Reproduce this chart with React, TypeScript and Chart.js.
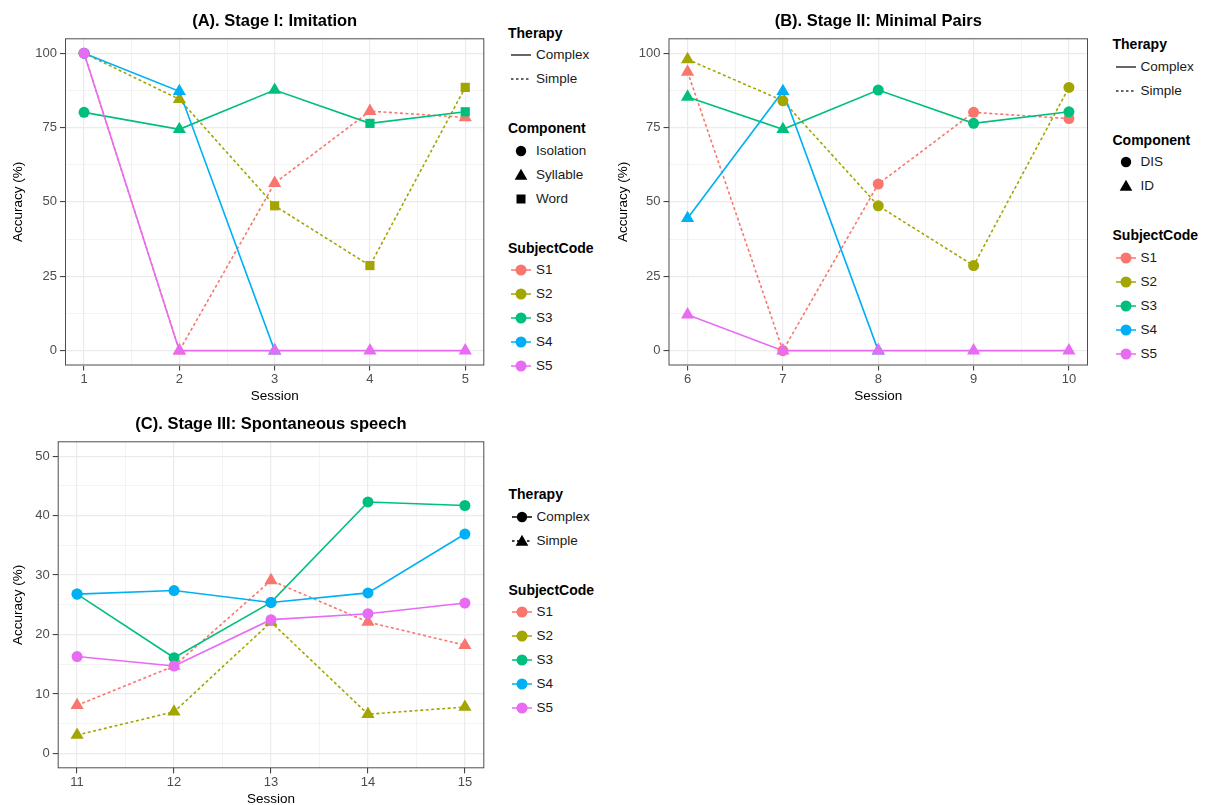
import React, { useEffect, useRef } from "react";
import { Chart, registerables } from "chart.js";

Chart.register(...registerables);

const FONT = '"Liberation Sans", Arial, Helvetica, sans-serif';

// ---------- shared ----------
const SUBJECTS = ["S1", "S2", "S3", "S4", "S5"];
const COLORS = ["#F8766D", "#A3A500", "#00BF7D", "#00B0F6", "#E76BF3"];
const THERAPY = ["Simple", "Simple", "Complex", "Complex", "Complex"];

// ---------- Panel A: Stage I (Imitation) ----------
const sessionsA = [1, 2, 3, 4, 5];
const A_S1 = [100, 0, 56.3, 80.5, 78.4];
const A_S2 = [100, 84.5, 48.7, 28.6, 88.5];
const A_S3 = [80.1, 74.4, 87.6, 76.4, 80.3];
const A_S4 = [100, 87.2, 0, null, null];
const A_S5 = [100, 0, 0, 0, 0];
const A_SHAPE_S1 = ["circle", "triangle", "triangle", "triangle", "triangle"];
const A_SHAPE_S2 = ["circle", "triangle", "rect", "rect", "rect"];
const A_SHAPE_S3 = ["circle", "triangle", "triangle", "rect", "rect"];
const A_SHAPE_S4 = ["circle", "triangle", "triangle", "triangle", "triangle"];
const A_SHAPE_S5 = ["circle", "triangle", "triangle", "triangle", "triangle"];

// ---------- Panel B: Stage II (Minimal Pairs) ----------
const sessionsB = [6, 7, 8, 9, 10];
const B_S1 = [93.7, 0, 56.0, 80.1, 78.0];
const B_S2 = [97.9, 84.0, 48.7, 28.6, 88.5];
const B_S3 = [85.3, 74.4, 87.6, 76.4, 80.3];
const B_S4 = [44.5, 87.2, 0, null, null];
const B_S5 = [12.1, 0, 0, 0, 0];
const B_SHAPE_S1 = ["triangle", "circle", "circle", "circle", "circle"];
const B_SHAPE_S2 = ["triangle", "circle", "circle", "circle", "circle"];
const B_SHAPE_S3 = ["triangle", "triangle", "circle", "circle", "circle"];
const B_SHAPE_S4 = ["triangle", "triangle", "triangle", "triangle", "triangle"];
const B_SHAPE_S5 = ["triangle", "triangle", "triangle", "triangle", "triangle"];

// ---------- Panel C: Stage III (Spontaneous speech) ----------
const sessionsC = [11, 12, 13, 14, 15];
const C_S1 = [8.1, 14.7, 29.1, 22.1, 18.2];
const C_S2 = [3.1, 7.0, 22.1, 6.6, 7.8];
const C_S3 = [26.8, 16.1, 25.4, 42.3, 41.7];
const C_S4 = [26.8, 27.4, 25.4, 27.0, 36.9];
const C_S5 = [16.3, 14.7, 22.5, 23.5, 25.3];
const TRI5 = ["triangle", "triangle", "triangle", "triangle", "triangle"];
const CIR5 = ["circle", "circle", "circle", "circle", "circle"];

// ---------- ticks ----------
const Y_TICKS_AB = [0, 25, 50, 75, 100];
const Y_MINOR_AB = [12.5, 37.5, 62.5, 87.5];
const Y_TICKS_C = [0, 10, 20, 30, 40, 50];
const Y_MINOR_C = [5, 15, 25, 35, 45];
const X_TICKS_A = [1, 2, 3, 4, 5];
const X_MINOR_A = [1.5, 2.5, 3.5, 4.5];
const X_TICKS_B = [6, 7, 8, 9, 10];
const X_MINOR_B = [6.5, 7.5, 8.5, 9.5];
const X_TICKS_C = [11, 12, 13, 14, 15];
const X_MINOR_C = [11.5, 12.5, 13.5, 14.5];

const radiusFor = (s: string) => (s === "triangle" ? 7.6 : s === "rect" ? 6.5 : 5.5);

function buildDatasets(xs: number[], series: (number | null)[][], shapes: string[][]) {
  const lines: any[] = [];
  const points: any[] = [];
  series.forEach((vals, i) => {
    const data = xs.map((x, j) => ({ x, y: vals[j] }));
    lines.push({
      label: SUBJECTS[i] + " line",
      data,
      borderColor: COLORS[i],
      borderWidth: 1.6,
      borderDash: THERAPY[i] === "Simple" ? [3, 2.5] : [],
      pointRadius: 0,
      fill: false,
      tension: 0,
      spanGaps: false,
      order: 10 + (4 - i),
      clip: false,
    });
    points.push({
      label: SUBJECTS[i],
      data,
      showLine: false,
      pointStyle: shapes[i],
      pointRadius: shapes[i].map(radiusFor),
      pointBackgroundColor: COLORS[i],
      pointBorderColor: COLORS[i],
      pointBorderWidth: 0,
      order: 4 - i,
      clip: false,
    });
  });
  return [...lines, ...points];
}

const decorPlugin = {
  id: "panelDecor",
  afterDatasetsDraw(chart: any) {
    const { ctx, chartArea: ca } = chart;
    ctx.save();
    ctx.strokeStyle = "#4D4D4D";
    ctx.lineWidth = 1;
    ctx.strokeRect(ca.left + 0.5, ca.top + 0.5, ca.right - ca.left - 1, ca.bottom - ca.top - 1);
    ctx.restore();
  },
  afterDraw(chart: any, _args: any, opts: any) {
    const { ctx, chartArea: ca } = chart;
    ctx.save();
    ctx.fillStyle = "#000000";
    ctx.textAlign = "center";
    ctx.textBaseline = "middle";
    ctx.font = `bold 16.5px ${FONT}`;
    ctx.fillText(opts.title, (ca.left + ca.right) / 2, ca.top - 17);
    ctx.font = `13.5px ${FONT}`;
    ctx.fillText("Session", (ca.left + ca.right) / 2, ca.bottom + 31);
    ctx.translate(opts.yTitleX, (ca.top + ca.bottom) / 2);
    ctx.rotate(-Math.PI / 2);
    ctx.fillText("Accuracy (%)", 0, 0);
    ctx.restore();
  },
};

type PanelProps = {
  left: number;
  top: number;
  width: number;
  height: number;
  padding: { left: number; right: number; top: number; bottom: number };
  yWidth: number;
  xHeight: number;
  title: string;
  yTitleX: number;
  xs: number[];
  series: (number | null)[][];
  shapes: string[][];
  xMin: number;
  xMax: number;
  yMin: number;
  yMax: number;
  xMajor: number[];
  xMinor: number[];
  yMajor: number[];
  yMinor: number[];
};

function axis(min: number, max: number, major: number[], minor: number[], isX: boolean, size: number) {
  const all = [...major, ...minor].sort((a, b) => a - b);
  const isMajor = (v: number) => major.some((m) => Math.abs(m - v) < 1e-9);
  return {
    type: "linear",
    min,
    max,
    afterBuildTicks: (s: any) => {
      s.ticks = all.map((v) => ({ value: v }));
    },
    afterFit: (s: any) => {
      if (isX) s.height = size;
      else s.width = size;
    },
    ticks: {
      autoSkip: false,
      maxRotation: 0,
      minRotation: 0,
      padding: isX ? 1 : 3,
      color: "#4D4D4D",
      font: { family: FONT, size: 13 },
      callback: (v: number) => (isMajor(v) ? String(v) : ""),
    },
    grid: {
      drawOnChartArea: true,
      drawTicks: true,
      tickLength: 5,
      tickWidth: 1,
      color: "#EBEBEB",
      lineWidth: (c: any) => (c.tick && isMajor(c.tick.value) ? 1.2 : 0.6),
      tickColor: (c: any) => (c.tick && isMajor(c.tick.value) ? "#333333" : "rgba(0,0,0,0)"),
    },
    border: { display: false },
  };
}

function Panel(p: PanelProps) {
  const ref = useRef<HTMLCanvasElement | null>(null);
  useEffect(() => {
    if (!ref.current) return;
    const chart = new Chart(ref.current, {
      type: "line",
      data: { datasets: buildDatasets(p.xs, p.series, p.shapes) },
      options: {
        animation: false,
        responsive: false,
        maintainAspectRatio: false,
        devicePixelRatio: 1,
        layout: { padding: p.padding },
        plugins: {
          legend: { display: false },
          tooltip: { enabled: false },
          title: { display: false },
          panelDecor: { title: p.title, yTitleX: p.yTitleX },
        } as any,
        scales: {
          x: axis(p.xMin, p.xMax, p.xMajor, p.xMinor, true, p.xHeight) as any,
          y: axis(p.yMin, p.yMax, p.yMajor, p.yMinor, false, p.yWidth) as any,
        },
      },
      plugins: [decorPlugin],
    } as any);
    return () => chart.destroy();
  }, []);
  return (
    <canvas
      ref={ref}
      width={p.width}
      height={p.height}
      style={{ position: "absolute", left: p.left, top: p.top, width: p.width, height: p.height }}
    />
  );
}

type LegendItem = { label: string; key: React.ReactNode };
type LegendSection = { title: string; items: LegendItem[] };

function Legend({ x, y, sections }: { x: number; y: number; sections: LegendSection[] }) {
  const rows: React.ReactNode[] = [];
  let cy = y;
  sections.forEach((sec, si) => {
    if (si > 0) cy += 49;
    rows.push(
      <div
        key={"t" + si}
        style={{
          position: "absolute",
          left: x,
          top: cy - 12,
          height: 24,
          lineHeight: "24px",
          fontFamily: FONT,
          fontWeight: "bold",
          fontSize: 14,
          color: "#000",
          whiteSpace: "nowrap",
        }}
      >
        {sec.title}
      </div>
    );
    cy += 22.5;
    sec.items.forEach((it, ii) => {
      if (ii > 0) cy += 24;
      rows.push(
        <div key={"i" + si + "_" + ii} style={{ position: "absolute", left: x, top: cy - 12, height: 24 }}>
          <svg width={26} height={24} style={{ position: "absolute", left: 0, top: 0 }}>
            {it.key}
          </svg>
          <div
            style={{
              position: "absolute",
              left: 28,
              top: 0,
              height: 24,
              lineHeight: "24px",
              fontFamily: FONT,
              fontSize: 13.5,
              color: "#1A1A1A",
              whiteSpace: "nowrap",
            }}
          >
            {it.label}
          </div>
        </div>
      );
    });
  });
  return <>{rows}</>;
}

const tri = (cx: number, cy: number, r: number, fill: string) => (
  <polygon
    points={`${cx},${cy - r} ${cx + r * 0.866},${cy + r * 0.5} ${cx - r * 0.866},${cy + r * 0.5}`}
    fill={fill}
  />
);

const lineKey = (dashed: boolean, color = "#333333") => (
  <line x1={3} x2={23} y1={12} y2={12} stroke={color} strokeWidth={1.5} strokeDasharray={dashed ? "2.5 2.5" : undefined} />
);

const therapyKeys: LegendSection = {
  title: "Therapy",
  items: [
    { label: "Complex", key: lineKey(false) },
    { label: "Simple", key: lineKey(true) },
  ],
};

const subjectKeys: LegendSection = {
  title: "SubjectCode",
  items: SUBJECTS.map((s, i) => ({
    label: s,
    key: (
      <>
        {lineKey(false, COLORS[i])}
        <circle cx={13} cy={12} r={5.5} fill={COLORS[i]} />
      </>
    ),
  })),
};

const componentA: LegendSection = {
  title: "Component",
  items: [
    { label: "Isolation", key: <circle cx={13} cy={12} r={5.2} fill="#000" /> },
    { label: "Syllable", key: tri(13, 13, 7.3, "#000") },
    { label: "Word", key: <rect x={8.5} y={7.5} width={9} height={9} fill="#000" /> },
  ],
};

const componentB: LegendSection = {
  title: "Component",
  items: [
    { label: "DIS", key: <circle cx={13} cy={12} r={5.2} fill="#000" /> },
    { label: "ID", key: tri(13, 13, 7.3, "#000") },
  ],
};

const therapyC: LegendSection = {
  title: "Therapy",
  items: [
    {
      label: "Complex",
      key: (
        <>
          {lineKey(false, "#000")}
          <circle cx={13} cy={12} r={5.2} fill="#000" />
        </>
      ),
    },
    {
      label: "Simple",
      key: (
        <>
          {lineKey(true, "#000")}
          {tri(13, 13, 7.3, "#000")}
        </>
      ),
    },
  ],
};

export default function App() {
  return (
    <div style={{ position: "absolute", left: 0, top: 0, width: 1205, height: 805, background: "#fff", overflow: "hidden" }}>
      <Panel
        left={0}
        top={0}
        width={495}
        height={410}
        padding={{ left: 20, right: 10.7, top: 38.3, bottom: 14.5 }}
        yWidth={45}
        xHeight={30}
        title="(A). Stage I: Imitation"
        yTitleX={18}
        xs={sessionsA}
        series={[A_S1, A_S2, A_S3, A_S4, A_S5]}
        shapes={[A_SHAPE_S1, A_SHAPE_S2, A_SHAPE_S3, A_SHAPE_S4, A_SHAPE_S5]}
        xMin={0.8}
        xMax={5.2}
        yMin={-5}
        yMax={105}
        xMajor={X_TICKS_A}
        xMinor={X_MINOR_A}
        yMajor={Y_TICKS_AB}
        yMinor={Y_MINOR_AB}
      />
      <Panel
        left={600}
        top={0}
        width={500}
        height={410}
        padding={{ left: 23.5, right: 12, top: 38.3, bottom: 14.5 }}
        yWidth={45}
        xHeight={30}
        title="(B). Stage II: Minimal Pairs"
        yTitleX={23}
        xs={sessionsB}
        series={[B_S1, B_S2, B_S3, B_S4, B_S5]}
        shapes={[B_SHAPE_S1, B_SHAPE_S2, B_SHAPE_S3, B_SHAPE_S4, B_SHAPE_S5]}
        xMin={5.8}
        xMax={10.2}
        yMin={-5}
        yMax={105}
        xMajor={X_TICKS_B}
        xMinor={X_MINOR_B}
        yMajor={Y_TICKS_AB}
        yMinor={Y_MINOR_AB}
      />
      <Panel
        left={0}
        top={405}
        width={495}
        height={400}
        padding={{ left: 17.7, right: 10.7, top: 36.3, bottom: 6.7 }}
        yWidth={40}
        xHeight={30}
        title="(C). Stage III: Spontaneous speech"
        yTitleX={18}
        xs={sessionsC}
        series={[C_S1, C_S2, C_S3, C_S4, C_S5]}
        shapes={[TRI5, TRI5, CIR5, CIR5, CIR5]}
        xMin={10.8}
        xMax={15.2}
        yMin={-2.5}
        yMax={52.5}
        xMajor={X_TICKS_C}
        xMinor={X_MINOR_C}
        yMajor={Y_TICKS_C}
        yMinor={Y_MINOR_C}
      />
      <Legend x={508} y={32.7} sections={[therapyKeys, componentA, subjectKeys]} />
      <Legend x={1112.5} y={44} sections={[therapyKeys, componentB, subjectKeys]} />
      <Legend x={508.5} y={494} sections={[therapyC, subjectKeys]} />
    </div>
  );
}
